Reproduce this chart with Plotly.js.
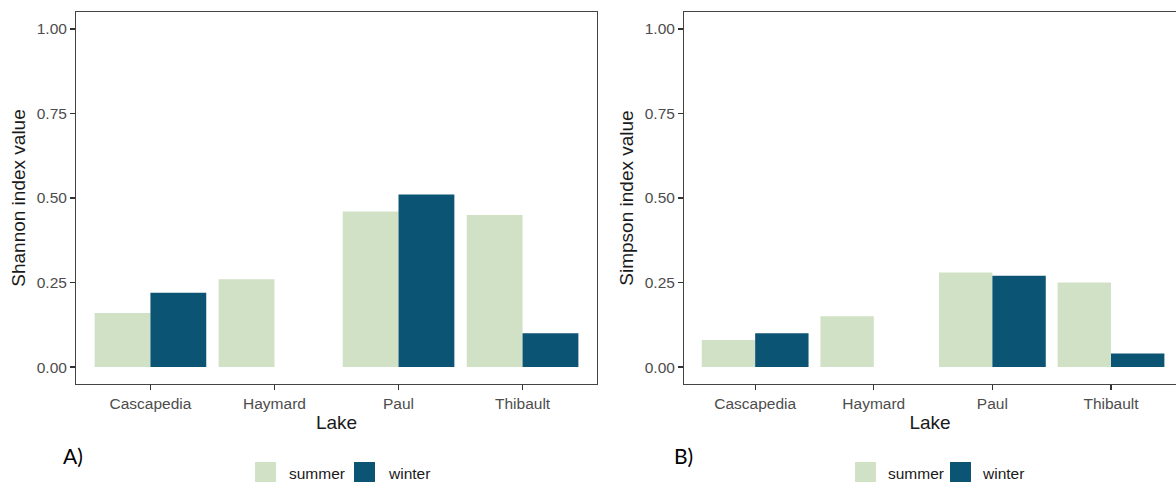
<!DOCTYPE html>
<html>
<head>
<meta charset="utf-8">
<script src="https://cdn.plot.ly/plotly-3.0.1.min.js"></script>
<style>
html,body{margin:0;padding:0;background:#fff;}
#chart{width:1176px;height:482px;}
</style>
</head>
<body>
<div id="chart"></div>
<script>
// ---- data ----
const lakes = ['Cascapedia', 'Haymard', 'Paul', 'Thibault'];
const seasons = ['summer', 'winter'];
const shannonSummer = [0.16, 0.26, 0.46, 0.45];
const shannonWinter = [0.22, null, 0.51, 0.10];
const simpsonSummer = [0.08, 0.15, 0.28, 0.25];
const simpsonWinter = [0.10, null, 0.27, 0.04];
const yTickVals = [0, 0.25, 0.5, 0.75, 1];
const yTickText = ['0.00', '0.25', '0.50', '0.75', '1.00'];
const panelLabels = ['A)', 'B)'];
const yTitles = ['Shannon index value', 'Simpson index value'];
const xTitle = 'Lake';

// ---- style ----
const W = 1176, H = 482;
const M = {l: 0, r: 0, t: 12, b: 98};
const plotH = H - M.t - M.b;
const px = v => v / W;
const py = v => (H - M.b - v) / plotH;
const colors = {summer: '#D0E1C6', winter: '#0B5474'};
const font = 'Liberation Sans, Arial, sans-serif';

function bar(y, season, xa, ya) {
  return {
    type: 'bar', x: lakes, y: y, name: season, xaxis: xa, yaxis: ya,
    marker: {color: colors[season], line: {width: 0}},
    showlegend: false, hoverinfo: 'x+y+name'
  };
}

const data = [
  bar(shannonSummer, seasons[0], 'x', 'y'),
  bar(shannonWinter, seasons[1], 'x', 'y'),
  bar(simpsonSummer, seasons[0], 'x2', 'y2'),
  bar(simpsonWinter, seasons[1], 'x2', 'y2')
];

const tickFont = {family: font, size: 15.5, color: '#4D4D4D'};
const titleFont = {family: font, size: 19, color: '#1A1A1A'};

function xAxis(domain, range, anchor) {
  return {
    domain: domain, range: range, anchor: anchor, type: 'category',
    showline: true, mirror: true, linecolor: '#444', linewidth: 1,
    ticks: 'outside', ticklen: 5, tickwidth: 1.2, tickcolor: '#333',
    tickfont: tickFont, showgrid: false, zeroline: false,
    title: {text: xTitle, font: titleFont, standoff: 5}
  };
}
function yAxis(title, anchor, mirror) {
  return {
    anchor: anchor, range: [-0.05, 1.05], tickvals: yTickVals, ticktext: yTickText,
    showline: true, mirror: mirror, linecolor: '#444', linewidth: 1,
    ticks: 'outside', ticklen: 5, tickwidth: 1.2, tickcolor: '#333',
    tickfont: tickFont, showgrid: false, zeroline: false,
    title: {text: title, font: titleFont, standoff: 6}
  };
}

const legendBoxes = [
  {x: 255, c: colors.summer}, {x: 354, c: colors.winter},
  {x: 855, c: colors.summer}, {x: 950, c: colors.winter}
];
const legendTexts = [
  {x: 287, t: seasons[0]}, {x: 386, t: seasons[1]},
  {x: 886, t: seasons[0]}, {x: 980, t: seasons[1]}
];

const shapes = legendBoxes.map(b => ({
  type: 'rect', xref: 'paper', yref: 'paper',
  x0: px(b.x), x1: px(b.x + 21), y0: py(462), y1: py(484),
  fillcolor: b.c, line: {width: 0}
}));

const annotations = legendTexts.map(l => ({
  xref: 'paper', yref: 'paper', x: px(l.x), y: py(473),
  xanchor: 'left', yanchor: 'middle', showarrow: false,
  text: l.t, font: {family: font, size: 15.5, color: '#1A1A1A'}
})).concat([
  {xref: 'paper', yref: 'paper', x: px(61), y: py(455), xanchor: 'left', yanchor: 'middle',
   showarrow: false, text: panelLabels[0], font: {family: 'Lato, sans-serif', size: 21, color: '#000'}},
  {xref: 'paper', yref: 'paper', x: px(672), y: py(455), xanchor: 'left', yanchor: 'middle',
   showarrow: false, text: panelLabels[1], font: {family: 'Lato, sans-serif', size: 21, color: '#000'}}
]);

const layout = {
  width: W, height: H, margin: M,
  paper_bgcolor: '#fff', plot_bgcolor: '#fff',
  barmode: 'group', bargap: 0.1, bargroupgap: 0,
  showlegend: false,
  xaxis: xAxis([px(76), px(597)], [-0.6, 3.6], 'y'),
  yaxis: yAxis(yTitles[0], 'x', true),
  xaxis2: xAxis([px(684), 1], [-0.6, 3.548], 'y2'),
  yaxis2: yAxis(yTitles[1], 'x2', false),
  shapes: shapes,
  annotations: annotations
};

Plotly.newPlot('chart', data, layout, {displayModeBar: false, staticPlot: true});
</script>
</body>
</html>
